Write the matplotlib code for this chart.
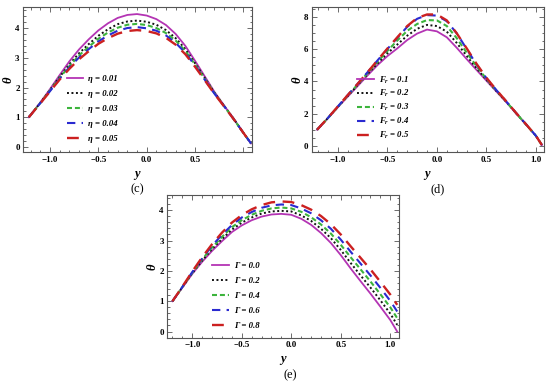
import matplotlib
matplotlib.use('Agg')
import matplotlib.pyplot as plt
from matplotlib.ticker import MultipleLocator, FixedLocator

plt.rcParams['font.family'] = ['Liberation Serif', 'DejaVu Serif']
plt.rcParams['mathtext.fontset'] = 'custom'
plt.rcParams['mathtext.it'] = 'Liberation Serif:italic:bold'
plt.rcParams['mathtext.rm'] = 'Liberation Serif:bold'

# panel (c): effect of eta
y_c = [-1.22, -1.1, -1.0, -0.9, -0.8, -0.7, -0.6, -0.5, -0.4, -0.3, -0.2, -0.1,
       0.0, 0.1, 0.2, 0.3, 0.4, 0.5, 0.6, 0.7, 0.8, 0.9, 1.0, 1.08]
c_eta01 = [1.00, 1.50, 1.95, 2.42, 2.88, 3.28, 3.62, 3.92, 4.16, 4.34, 4.44, 4.47,
           4.42, 4.30, 4.10, 3.80, 3.40, 2.90, 2.38, 1.86, 1.40, 0.95, 0.48, 0.12]
c_eta02 = [1.00, 1.49, 1.92, 2.36, 2.78, 3.15, 3.46, 3.74, 3.96, 4.13, 4.22, 4.25,
           4.21, 4.11, 3.93, 3.66, 3.29, 2.82, 2.33, 1.83, 1.39, 0.95, 0.48, 0.12]
c_eta03 = [1.00, 1.48, 1.90, 2.33, 2.72, 3.08, 3.37, 3.64, 3.85, 4.01, 4.11, 4.14,
           4.10, 4.00, 3.83, 3.58, 3.23, 2.78, 2.30, 1.82, 1.38, 0.94, 0.48, 0.12]
c_eta04 = [1.00, 1.48, 1.88, 2.30, 2.68, 3.01, 3.29, 3.55, 3.75, 3.91, 4.00, 4.03,
           3.99, 3.91, 3.75, 3.50, 3.17, 2.74, 2.27, 1.80, 1.38, 0.94, 0.48, 0.12]
c_eta05 = [1.00, 1.47, 1.87, 2.27, 2.63, 2.95, 3.22, 3.47, 3.66, 3.81, 3.90, 3.93,
           3.90, 3.82, 3.67, 3.44, 3.12, 2.70, 2.25, 1.79, 1.37, 0.94, 0.48, 0.12]
c_labels = ['\u03b7 = 0.01', '\u03b7 = 0.02', '\u03b7 = 0.03', '\u03b7 = 0.04', '\u03b7 = 0.05']

# panel (d): effect of F_r
y_d = [-1.21, -1.1, -1.0, -0.9, -0.8, -0.7, -0.6, -0.5, -0.4, -0.3, -0.2, -0.1,
       0.0, 0.1, 0.2, 0.3, 0.4, 0.5, 0.6, 0.7, 0.8, 0.9, 1.0, 1.06]
d_fr1 = [1.0, 1.72, 2.40, 3.06, 3.72, 4.38, 5.02, 5.58, 6.06, 6.58, 6.98, 7.23,
         7.12, 6.75, 6.10, 5.40, 4.72, 4.05, 3.38, 2.72, 2.02, 1.33, 0.62, 0.05]
d_fr2 = [1.0, 1.73, 2.42, 3.10, 3.78, 4.46, 5.12, 5.75, 6.30, 6.85, 7.28, 7.52,
         7.45, 7.10, 6.40, 5.60, 4.83, 4.11, 3.41, 2.74, 2.03, 1.33, 0.62, 0.05]
d_fr3 = [1.0, 1.73, 2.43, 3.13, 3.82, 4.52, 5.22, 5.90, 6.55, 7.15, 7.58, 7.82,
         7.80, 7.45, 6.70, 5.80, 4.95, 4.16, 3.44, 2.75, 2.03, 1.33, 0.62, 0.05]
d_fr4 = [1.0, 1.74, 2.45, 3.16, 3.86, 4.58, 5.31, 6.02, 6.72, 7.40, 7.90, 8.13,
         8.10, 7.75, 7.00, 6.03, 5.06, 4.21, 3.47, 2.76, 2.04, 1.34, 0.62, 0.05]
d_fr5 = [1.0, 1.74, 2.45, 3.16, 3.86, 4.58, 5.32, 6.05, 6.75, 7.45, 7.95, 8.17,
         8.17, 7.80, 7.00, 6.07, 5.10, 4.23, 3.48, 2.77, 2.04, 1.34, 0.62, 0.05]
d_labels = ['$F_r$ = 0.1', '$F_r$ = 0.2', '$F_r$ = 0.3', '$F_r$ = 0.4', '$F_r$ = 0.5']

# panel (e): effect of Gamma
y_e = [-1.2, -1.1, -1.0, -0.9, -0.8, -0.7, -0.6, -0.5, -0.4, -0.3, -0.2, -0.1,
       0.0, 0.1, 0.2, 0.3, 0.4, 0.5, 0.6, 0.7, 0.8, 0.9, 1.0, 1.07]
e_g0 = [1.0, 1.45, 1.90, 2.30, 2.66, 2.98, 3.28, 3.50, 3.67, 3.79, 3.86, 3.88,
        3.85, 3.72, 3.52, 3.25, 2.92, 2.52, 2.08, 1.66, 1.25, 0.82, 0.38, 0.0]
e_g2 = [1.0, 1.46, 1.92, 2.34, 2.72, 3.05, 3.36, 3.59, 3.76, 3.89, 3.96, 3.98,
        3.96, 3.83, 3.65, 3.39, 3.08, 2.69, 2.26, 1.85, 1.45, 1.03, 0.59, 0.22]
e_g4 = [1.0, 1.47, 1.94, 2.38, 2.77, 3.12, 3.44, 3.67, 3.85, 3.98, 4.06, 4.09,
        4.06, 3.95, 3.77, 3.53, 3.23, 2.86, 2.45, 2.05, 1.65, 1.23, 0.80, 0.44]
e_g6 = [1.0, 1.47, 1.96, 2.41, 2.83, 3.19, 3.51, 3.76, 3.94, 4.08, 4.16, 4.19,
        4.17, 4.06, 3.90, 3.67, 3.39, 3.03, 2.63, 2.24, 1.85, 1.44, 1.01, 0.66]
e_g8 = [1.0, 1.48, 1.98, 2.45, 2.88, 3.26, 3.59, 3.84, 4.03, 4.17, 4.26, 4.29,
        4.27, 4.17, 4.02, 3.81, 3.54, 3.20, 2.81, 2.43, 2.05, 1.64, 1.22, 0.88]
e_labels = ['\u0393 = 0.0', '\u0393 = 0.2', '\u0393 = 0.4', '\u0393 = 0.6', '\u0393 = 0.8']

colors = ['#b434b4', '#111111', '#3cb43c', '#2a2ad0', '#cc2020']
dashes = [None, (1.0, 1.3), (2.4, 1.4), (4.0, 3.0), (5.0, 3.2)]
widths = [1.3, 1.4, 1.5, 1.5, 1.7]


def draw_panel(ax, x, series, labels, xlim, ylim, ystep, yminor, xlab_1=True):
    for i, s in enumerate(series):
        if dashes[i] is None:
            ax.plot(x, s, color=colors[i], lw=widths[i], label=labels[i])
        else:
            ax.plot(x, s, color=colors[i], lw=widths[i], dashes=dashes[i], label=labels[i])
    ax.set_xlim(xlim)
    ax.set_ylim(ylim)
    ax.xaxis.set_major_locator(FixedLocator([-1.0, -0.5, 0.0, 0.5, 1.0]))
    ax.xaxis.set_minor_locator(MultipleLocator(0.1))
    ax.yaxis.set_major_locator(MultipleLocator(ystep))
    ax.yaxis.set_minor_locator(MultipleLocator(yminor))
    if xlab_1:
        ax.set_xticklabels(['\u22121.0', '\u22120.5', '0.0', '0.5', '1.0'])
    else:
        ax.set_xticklabels(['\u22121.0', '\u22120.5', '0.0', '0.5', ''])
    ax.tick_params(which='both', direction='in', top=True, right=True,
                   labelsize=6.5, pad=2.5, width=0.6, color='#555555')
    ax.tick_params(which='major', length=3.5)
    ax.tick_params(which='minor', length=1.8)
    for lab in ax.get_xticklabels() + ax.get_yticklabels():
        lab.set_fontweight('bold')
    for sp in ax.spines.values():
        sp.set_color('#555555')
        sp.set_linewidth(0.8)
    ax.set_xlabel('$y$', fontsize=9)
    ax.set_ylabel(r'$\theta$', fontsize=9)
    ax.xaxis.set_label_coords(0.5, -0.115)
    ax.yaxis.set_label_coords(-0.035, 0.5)


fig = plt.figure(figsize=(5.5, 3.84), dpi=100)
ax_c = fig.add_axes([0.042, 0.604, 0.416, 0.378])
ax_d = fig.add_axes([0.567, 0.604, 0.422, 0.378])
ax_e = fig.add_axes([0.304, 0.120, 0.422, 0.372])

draw_panel(ax_c, y_c, [c_eta01, c_eta02, c_eta03, c_eta04, c_eta05], c_labels,
           (-1.279, 1.089), (-0.17, 4.71), 1, 0.2, xlab_1=False)
draw_panel(ax_d, y_d, [d_fr1, d_fr2, d_fr3, d_fr4, d_fr5], d_labels,
           (-1.263, 1.081), (-0.39, 8.64), 2, 0.5)
draw_panel(ax_e, y_e, [e_g0, e_g2, e_g4, e_g6, e_g8], e_labels,
           (-1.253, 1.091), (-0.21, 4.50), 1, 0.2)

leg_pos = [(ax_c, 0.19, 0.53, 0.78), (ax_d, 0.195, 0.535, 0.3), (ax_e, 0.195, 0.53, 0.78)]
for ax, lx, ly, sp in leg_pos:
    ax.legend(loc='upper left', bbox_to_anchor=(lx, ly), frameon=False,
              prop={'size': 6.3, 'style': 'italic', 'weight': 'bold'},
              handlelength=1.9, handletextpad=0.6,
              labelspacing=sp, borderpad=0, borderaxespad=0)

fig.text(0.249, 0.508, '(c)', ha='center', va='center', fontsize=9)
fig.text(0.795, 0.508, '(d)', ha='center', va='center', fontsize=9)
fig.text(0.527, 0.022, '(e)', ha='center', va='center', fontsize=9)

fig.savefig('out.png', dpi=100)
